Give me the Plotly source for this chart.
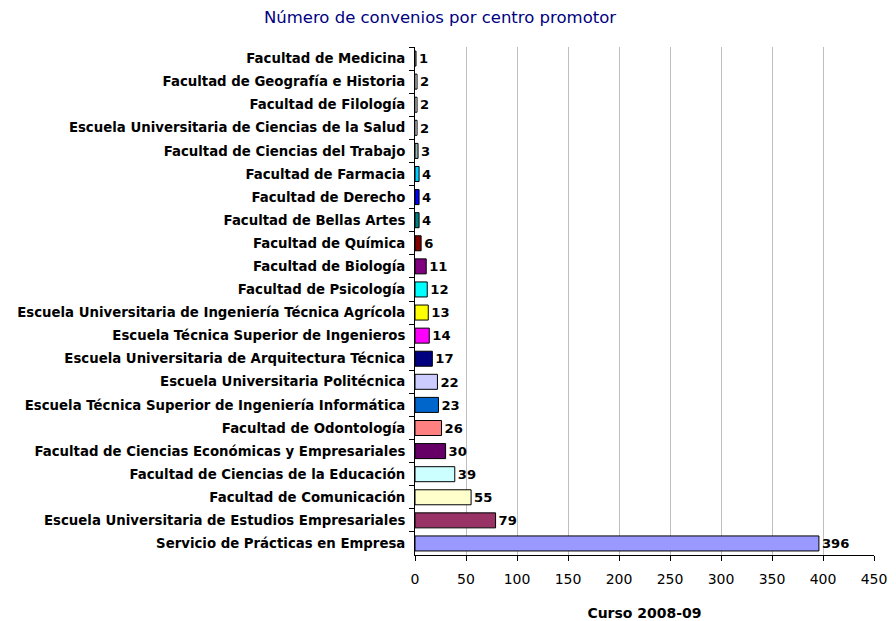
import plotly.graph_objects as go

categories = [
    "Facultad de Medicina",
    "Facultad de Geografía e Historia",
    "Facultad de Filología",
    "Escuela Universitaria de Ciencias de la Salud",
    "Facultad de Ciencias del Trabajo",
    "Facultad de Farmacia",
    "Facultad de Derecho",
    "Facultad de Bellas Artes",
    "Facultad de Química",
    "Facultad de Biología",
    "Facultad de Psicología",
    "Escuela Universitaria de Ingeniería Técnica Agrícola",
    "Escuela Técnica Superior de Ingenieros",
    "Escuela Universitaria de Arquitectura Técnica",
    "Escuela Universitaria Politécnica",
    "Escuela Técnica Superior de Ingeniería Informática",
    "Facultad de Odontología",
    "Facultad de Ciencias Económicas y Empresariales",
    "Facultad de Ciencias de la Educación",
    "Facultad de Comunicación",
    "Escuela Universitaria de Estudios Empresariales",
    "Servicio de Prácticas en Empresa",
]
values = [1, 2, 2, 2, 3, 4, 4, 4, 6, 11, 12, 13, 14, 17, 22, 23, 26, 30, 39, 55, 79, 396]
colors = [
    "#FFFFFF", "#FFFFFF", "#FFFFFF", "#FFFFFF", "#99B3B3", "#00CCFF", "#0000FF",
    "#008080", "#800000", "#800080", "#00FFFF", "#FFFF00", "#FF00FF", "#000080",
    "#CCCCFF", "#0066CC", "#FF8080", "#660066", "#CCFFFF", "#FFFFCC", "#993366",
    "#9999FF",
]
x_ticks = [0, 50, 100, 150, 200, 250, 300, 350, 400, 450]

FONT = "DejaVu Sans"
W, H = 888, 613

fig = go.Figure(go.Bar(
    y=categories, x=values, orientation="h",
    marker=dict(color=colors, line=dict(color="black", width=1)),
    text=[str(v) for v in values], textposition="outside", cliponaxis=False,
    textfont=dict(family=FONT, size=14, color="black", weight="bold"),
    width=0.65,
))

fig.update_layout(
    width=W, height=H,
    margin=dict(l=407, r=22, t=39, b=66),
    paper_bgcolor="white", plot_bgcolor="white",
    font=dict(family=FONT, color="black"),
    title=dict(text="Número de convenios por centro promotor", x=432 / W, xref="container",
               y=1 - 9 / H, yref="container", xanchor="center", yanchor="middle",
               font=dict(size=16.5, color="#000080")),
    showlegend=False,
)
fig.update_xaxes(
    range=[0, 450], tickvals=x_ticks, showgrid=True, gridcolor="#BFBFBF", gridwidth=1,
    showline=True, linecolor="black", linewidth=1, ticks="outside", ticklen=5,
    tickcolor="black", tickfont=dict(size=14), zeroline=False, automargin=False,
    ticklabelstandoff=6,
    title=dict(text="<b>Curso 2008-09</b>", font=dict(size=14), standoff=24),
)
fig.update_yaxes(
    autorange="reversed", showline=True, linecolor="black", linewidth=1,
    ticks="outside", ticklen=5, tickcolor="black", tickson="boundaries",
    tickfont=dict(size=13.3, weight="bold"), ticklabelstandoff=6, showgrid=False,
    automargin=False,
)

fig.write_html("out.html")
